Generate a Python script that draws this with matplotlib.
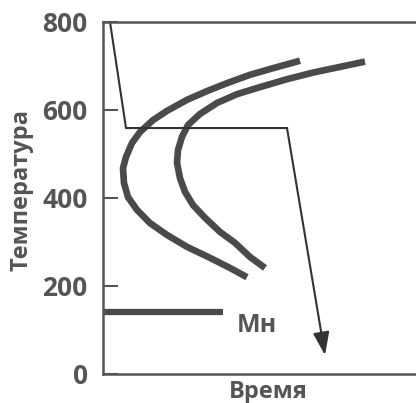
import matplotlib
matplotlib.use("Agg")
import matplotlib.pyplot as plt

plt.rcParams['font.family'] = ['Open Sans', 'DejaVu Sans']

# Data (time in arbitrary units, temperature in °C)
start_time = [197, 170, 147, 124, 104, 84, 64, 50, 37, 29, 23, 20, 21, 25, 34, 47, 64, 84, 107, 127, 144]
start_temp = [712, 695, 680, 661, 643, 623, 598, 577, 550, 525, 493, 468, 434, 402, 373, 343, 316, 289, 264, 241, 220]
finish_time = [262, 237, 210, 184, 157, 134, 114, 97, 85, 79, 75, 74, 77, 82, 90, 102, 117, 132, 147, 162]
finish_temp = [710, 698, 685, 670, 652, 636, 616, 591, 566, 539, 509, 480, 445, 414, 384, 355, 323, 298, 266, 241]
cool_time = [7, 23, 184]
cool_temp = [800, 559, 559]
arrow_end = (222, 43)
mn_time = [0, 120]
mn_temp = [142, 142]
yticks = [0, 200, 400, 600, 800]

grey = '#555555'
dark = '#4a4a4a'

fig = plt.figure(figsize=(4.16, 4.03), dpi=100)
ax = fig.add_axes([103/416, 1-374/403, 330/416, (374-22)/403])
ax.set_xlim(0, 330)
ax.set_ylim(0, 800)

ax.plot(start_time, start_temp, color=dark, lw=4.8, solid_capstyle='butt', solid_joinstyle='round')
ax.plot(finish_time, finish_temp, color=dark, lw=4.8, solid_capstyle='butt', solid_joinstyle='round')
ax.plot(cool_time, cool_temp, color='#333333', lw=1.5)
ax.annotate('', xy=arrow_end, xytext=(cool_time[-1], cool_temp[-1]),
            arrowprops=dict(arrowstyle='-|>,head_length=1.4,head_width=0.5', color='#333333', lw=1.5,
                            shrinkA=0, shrinkB=0))
ax.plot(mn_time, mn_temp, color=dark, lw=4.5, solid_capstyle='butt')
ax.text((257-103)/330, (374-326)/352, 'Мн', transform=ax.transAxes, color=grey, fontsize=18,
        fontweight='bold', ha='center', va='center')

ax.set_yticks(yticks)
ax.set_yticklabels([str(v) for v in yticks])
ax.set_xticks([])
ax.tick_params(axis='y', direction='in', length=11, width=1.5, color=grey, pad=11,
               labelsize=19, labelcolor=grey)
for lab in ax.get_yticklabels():
    lab.set_fontweight('bold')
for s in ['left', 'top', 'bottom']:
    ax.spines[s].set_color(grey)
    ax.spines[s].set_linewidth(1.8)
ax.spines['right'].set_visible(False)

ax.set_ylabel('Температура', color=grey, fontsize=17, fontweight='bold')
ax.yaxis.set_label_coords(-(103-34)/330, (374-190)/352, transform=ax.transAxes)
ax.text((268-103)/330, -(392-374)/352, 'Время', transform=ax.transAxes, color=grey,
        fontsize=17, fontweight='bold', ha='center', va='center')

fig.savefig('out.png', dpi=100)
